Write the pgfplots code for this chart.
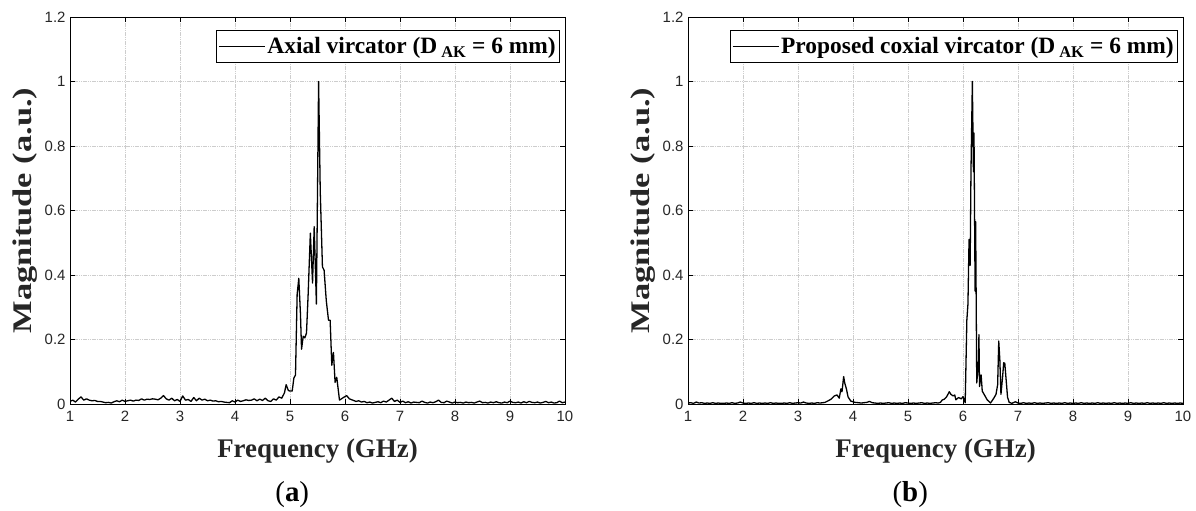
\documentclass[border=0pt]{standalone}
\usepackage{pgfplots}
\pgfplotsset{compat=1.18}
\usepackage{fontspec}
\setmainfont{Liberation Serif}
\setsansfont{Liberation Sans}

\definecolor{labelgray}{RGB}{38,38,38}
\definecolor{gridgray}{RGB}{205,205,205}

% Spectrum of the axial vircator
\pgfplotstableread{
f y
1.00 0.008
1.05 0.012
1.10 0.006
1.15 0.015
1.20 0.022
1.25 0.012
1.30 0.016
1.35 0.012
1.40 0.010
1.45 0.011
1.50 0.008
1.55 0.008
1.60 0.006
1.65 0.004
1.70 0.005
1.75 0.003
1.80 0.007
1.85 0.010
1.90 0.007
1.95 0.012
2.00 0.008
2.05 0.010
2.10 0.012
2.15 0.009
2.20 0.012
2.25 0.011
2.30 0.016
2.35 0.012
2.40 0.015
2.45 0.014
2.50 0.016
2.55 0.015
2.60 0.013
2.65 0.018
2.70 0.026
2.75 0.016
2.80 0.012
2.85 0.018
2.90 0.010
2.95 0.014
3.00 0.008
3.05 0.025
3.10 0.012
3.15 0.014
3.20 0.008
3.25 0.020
3.30 0.010
3.35 0.018
3.40 0.012
3.45 0.015
3.50 0.010
3.55 0.012
3.60 0.009
3.65 0.010
3.70 0.007
3.75 0.008
3.80 0.006
3.85 0.005
3.90 0.004
3.95 0.010
4.00 0.006
4.05 0.012
4.10 0.008
4.15 0.010
4.20 0.013
4.25 0.011
4.30 0.012
4.35 0.016
4.40 0.010
4.45 0.015
4.50 0.011
4.55 0.018
4.60 0.010
4.65 0.008
4.70 0.016
4.75 0.012
4.80 0.022
4.85 0.018
4.90 0.035
4.93 0.060
4.97 0.042
5.00 0.040
5.04 0.040
5.07 0.080
5.10 0.090
5.13 0.340
5.16 0.390
5.19 0.280
5.21 0.170
5.24 0.210
5.27 0.205
5.30 0.220
5.33 0.340
5.37 0.530
5.41 0.375
5.44 0.550
5.48 0.310
5.52 1.000
5.55 0.660
5.59 0.425
5.62 0.415
5.66 0.320
5.70 0.260
5.73 0.260
5.76 0.120
5.79 0.160
5.82 0.067
5.85 0.083
5.90 0.012
5.97 0.020
6.03 0.026
6.08 0.016
6.14 0.012
6.20 0.008
6.25 0.010
6.30 0.006
6.35 0.008
6.40 0.004
6.45 0.006
6.50 0.003
6.55 0.005
6.60 0.007
6.65 0.004
6.70 0.009
6.75 0.006
6.80 0.012
6.85 0.018
6.90 0.008
6.95 0.012
7.00 0.005
7.05 0.009
7.10 0.004
7.15 0.007
7.20 0.003
7.25 0.006
7.30 0.005
7.35 0.004
7.40 0.009
7.45 0.005
7.50 0.003
7.55 0.006
7.60 0.004
7.65 0.007
7.70 0.012
7.75 0.005
7.80 0.004
7.85 0.009
7.90 0.006
7.95 0.003
8.00 0.006
8.05 0.004
8.10 0.005
8.15 0.003
8.20 0.006
8.25 0.004
8.30 0.005
8.35 0.003
8.40 0.006
8.45 0.009
8.50 0.004
8.55 0.005
8.60 0.003
8.65 0.006
8.70 0.004
8.75 0.007
8.80 0.004
8.85 0.003
8.90 0.006
8.95 0.004
9.00 0.009
9.05 0.005
9.10 0.004
9.15 0.006
9.20 0.003
9.25 0.007
9.30 0.004
9.35 0.008
9.40 0.005
9.45 0.004
9.50 0.006
9.55 0.003
9.60 0.005
9.65 0.008
9.70 0.004
9.75 0.006
9.80 0.003
9.85 0.004
9.90 0.009
9.95 0.004
10.00 0.006
}\axialdata

% Spectrum of the proposed coaxial vircator
\pgfplotstableread{
f y
1.00 0.003
1.05 0.004
1.10 0.002
1.15 0.006
1.20 0.003
1.25 0.004
1.30 0.002
1.35 0.003
1.40 0.002
1.45 0.004
1.50 0.002
1.55 0.003
1.60 0.002
1.65 0.002
1.70 0.003
1.75 0.002
1.80 0.004
1.85 0.002
1.90 0.003
1.95 0.006
2.00 0.003
2.05 0.002
2.10 0.003
2.15 0.002
2.20 0.004
2.25 0.002
2.30 0.003
2.35 0.002
2.40 0.003
2.45 0.002
2.50 0.004
2.55 0.002
2.60 0.003
2.65 0.002
2.70 0.002
2.75 0.003
2.80 0.002
2.85 0.004
2.90 0.002
2.95 0.003
3.00 0.004
3.05 0.003
3.10 0.006
3.15 0.003
3.20 0.002
3.25 0.003
3.30 0.002
3.35 0.004
3.40 0.003
3.45 0.004
3.49 0.005
3.55 0.010
3.60 0.015
3.66 0.025
3.71 0.028
3.75 0.018
3.78 0.047
3.80 0.038
3.83 0.085
3.85 0.065
3.88 0.047
3.91 0.022
3.96 0.009
4.04 0.005
4.10 0.004
4.15 0.003
4.20 0.004
4.25 0.005
4.30 0.008
4.35 0.004
4.40 0.003
4.45 0.002
4.50 0.003
4.55 0.002
4.60 0.003
4.65 0.004
4.70 0.002
4.75 0.003
4.80 0.002
4.85 0.003
4.90 0.002
4.95 0.004
5.00 0.003
5.05 0.002
5.10 0.003
5.15 0.002
5.20 0.003
5.25 0.004
5.30 0.002
5.35 0.003
5.40 0.002
5.45 0.003
5.50 0.004
5.55 0.003
5.59 0.005
5.62 0.012
5.66 0.015
5.70 0.022
5.72 0.028
5.75 0.038
5.78 0.030
5.82 0.025
5.85 0.028
5.87 0.013
5.92 0.020
5.97 0.016
6.00 0.023
6.04 0.004
6.07 0.260
6.09 0.310
6.11 0.510
6.13 0.430
6.145 0.720
6.17 1.000
6.19 0.720
6.20 0.840
6.22 0.350
6.23 0.565
6.25 0.065
6.28 0.130
6.29 0.215
6.30 0.054
6.33 0.090
6.35 0.040
6.39 0.028
6.44 0.013
6.50 0.003
6.56 0.018
6.60 0.030
6.63 0.060
6.65 0.195
6.67 0.137
6.69 0.030
6.72 0.084
6.74 0.128
6.76 0.126
6.79 0.063
6.81 0.021
6.84 0.005
6.89 0.002
6.95 0.007
7.00 0.003
7.05 0.002
7.10 0.004
7.15 0.002
7.20 0.003
7.25 0.002
7.30 0.004
7.35 0.002
7.40 0.003
7.45 0.002
7.50 0.003
7.55 0.004
7.60 0.002
7.65 0.003
7.70 0.002
7.75 0.003
7.80 0.002
7.85 0.004
7.90 0.002
7.95 0.003
8.00 0.002
8.05 0.003
8.10 0.002
8.15 0.004
8.20 0.002
8.25 0.003
8.30 0.002
8.35 0.003
8.40 0.002
8.45 0.004
8.50 0.002
8.55 0.003
8.60 0.002
8.65 0.003
8.70 0.002
8.75 0.004
8.80 0.002
8.85 0.003
8.90 0.002
8.95 0.003
9.00 0.002
9.05 0.004
9.10 0.002
9.15 0.003
9.20 0.002
9.25 0.003
9.30 0.002
9.35 0.004
9.40 0.002
9.45 0.003
9.50 0.002
9.55 0.003
9.60 0.002
9.65 0.004
9.70 0.002
9.75 0.003
9.80 0.002
9.85 0.003
9.90 0.002
9.95 0.003
10.00 0.002
}\coaxdata

\pgfplotsset{
  spectrum/.style={
    width=495bp, height=387bp, scale only axis,
    clip mode=individual,
    xmin=1, xmax=10, ymin=0, ymax=1.2,
    xtick={1,2,3,4,5,6,7,8,9,10},
    ytick={0,0.2,0.4,0.6,0.8,1,1.2},
    axis line style={black, line width=0.8pt},
    tick align=inside,
    major tick length=5bp,
    tick style={black, line width=0.6pt},
    grid=major,
    major grid style={gridgray, line width=0.7pt, dash pattern=on 1.2pt off 0.6pt},
    /pgf/number format/assume math mode=true,
    ticklabel style={font=\sffamily\fontsize{15}{15}\selectfont, text=labelgray},
    xticklabel style={yshift=-4bp},
    yticklabel style={xshift=-1bp},
    xlabel={Frequency (GHz)},
    ylabel={\scalebox{1.28}[1]{Magnitude (a.u.)}},
    label style={font=\bfseries\fontsize{27}{27}\selectfont, text=labelgray},
    xlabel style={at={(axis description cs:0.5,-0.121)}, anchor=center},
    ylabel style={at={(axis description cs:-0.091,0.5)}, anchor=center},
    legend cell align=left,
    legend style={at={(axis description cs:0.99,0.966)}, anchor=north east,
      draw=black, line width=0.6pt, fill=white,
      font=\bfseries\fontsize{23.5}{26}\selectfont,
      inner xsep=2bp, inner ysep=5bp},
    legend image code/.code={\draw[black, line width=0.9pt] (0bp,0bp) -- (46bp,0bp);},
  },
}

\begin{document}
\begin{tikzpicture}
\useasboundingbox (0bp,0bp) rectangle (1196bp,511bp);

\begin{axis}[spectrum, at={(70bp,107bp)}, anchor=south west]
  \addplot[black, line width=1.3pt, line join=round] table[x=f, y=y] {\axialdata};
  \addlegendentry{Axial vircator (D\,\textsubscript{AK} = 6 mm)}
  \node[font=\fontsize{29}{29}\selectfont, anchor=center]
    at (axis description cs:0.449,-0.235) {(\textbf{a})};
\end{axis}

\begin{axis}[spectrum, at={(688bp,107bp)}, anchor=south west]
  \addplot[black, line width=1.3pt, line join=round] table[x=f, y=y] {\coaxdata};
  \addlegendentry{Proposed coxial vircator (D\,\textsubscript{AK} = 6 mm)}
  \node[font=\fontsize{29}{29}\selectfont, anchor=center]
    at (axis description cs:0.449,-0.235) {(\textbf{b})};
\end{axis}
\end{tikzpicture}
\end{document}
